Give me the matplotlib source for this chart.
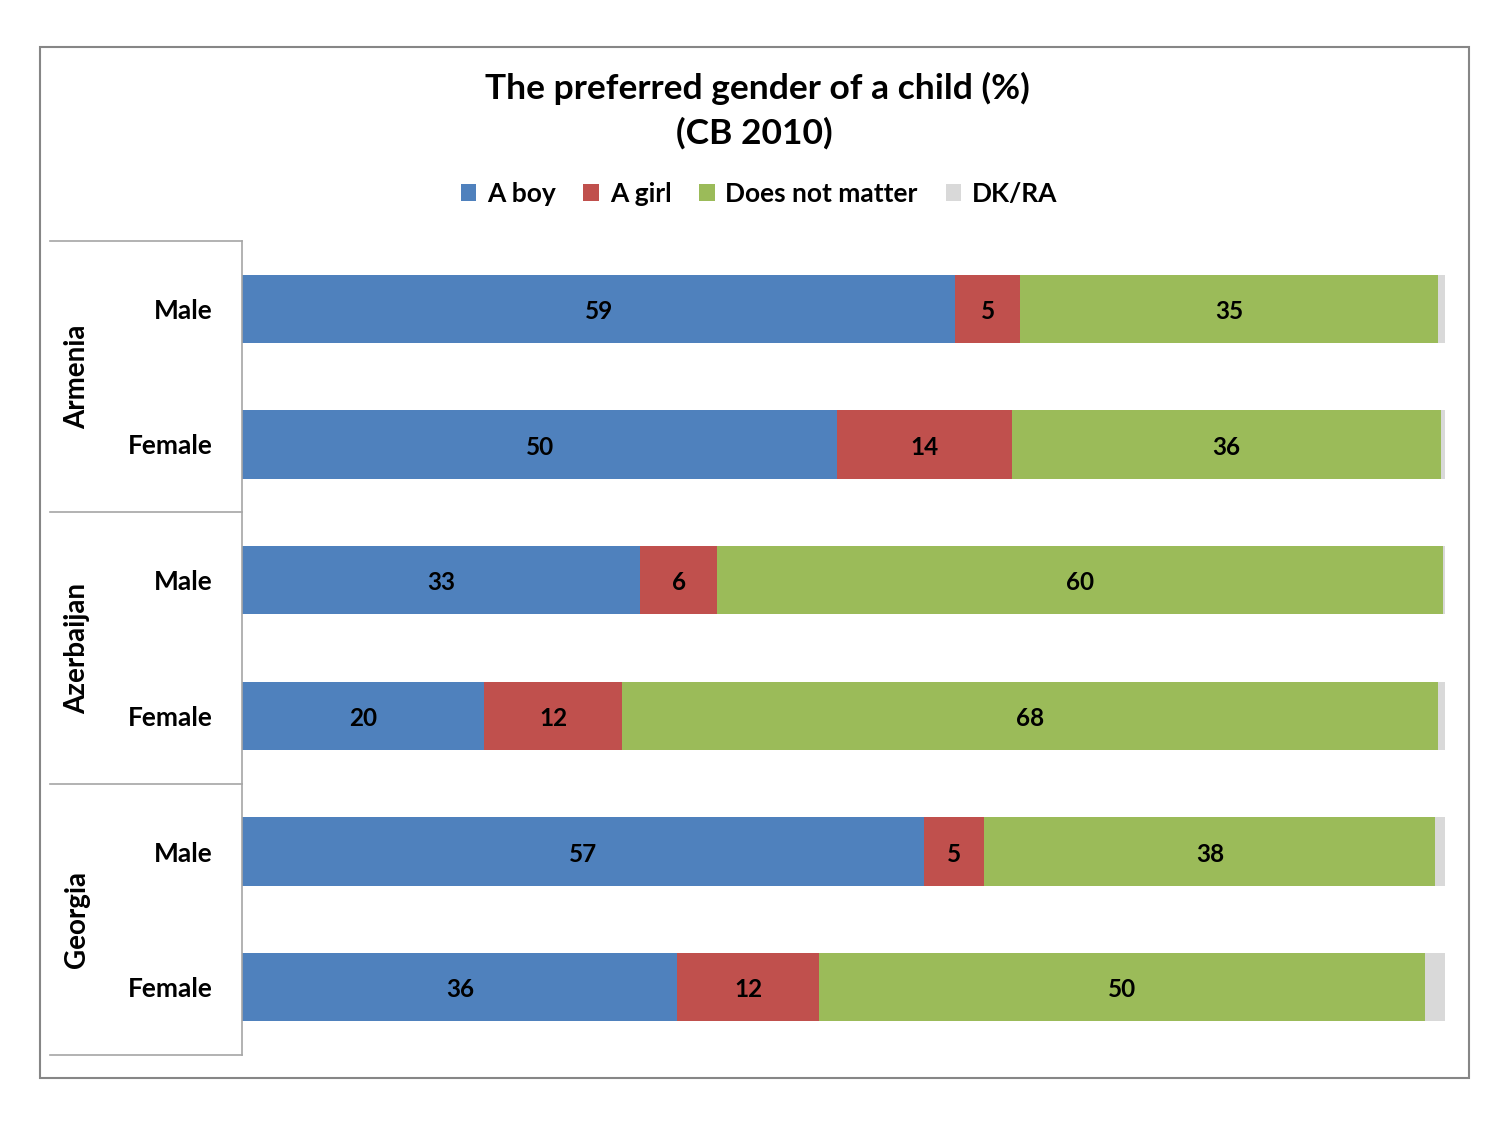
import matplotlib.pyplot as plt
from matplotlib.patches import Rectangle
import numpy as np

plt.rcParams['font.family'] = ['Lato', 'DejaVu Sans']
plt.rcParams['font.weight'] = 'bold'

countries = ['Armenia', 'Azerbaijan', 'Georgia']
genders = ['Male', 'Female', 'Male', 'Female', 'Male', 'Female']
series = ['A boy', 'A girl', 'Does not matter', 'DK/RA']
colors = ['#4F81BD', '#C0504D', '#9BBB59', '#D9D9D9']

# shares per row, in %
a_boy = [59.3, 49.5, 33.1, 20.1, 56.7, 36.2]
a_girl = [5.4, 14.5, 6.4, 11.5, 5.0, 11.8]
no_matter = [34.7, 35.7, 60.3, 67.8, 37.5, 50.3]
dk_ra = [0.6, 0.3, 0.2, 0.6, 0.8, 1.7]

W, H = 1509, 1127
fig = plt.figure(figsize=(W / 100, H / 100), dpi=100)

# outer chart border
fig.patches.append(Rectangle((40 / W, 1 - 1078 / H), 1429 / W, 1031 / H,
                             transform=fig.transFigure, fill=False,
                             edgecolor='#868686', linewidth=1.5))

ax = fig.add_axes([242 / W, 1 - 1055 / H, 1203 / W, 814 / H])

y = np.arange(len(genders))
left = np.zeros(len(genders))
for vals, name, col in zip([a_boy, a_girl, no_matter, dk_ra], series, colors):
    ax.barh(y, vals, left=left, height=0.505, color=col, label=name)
    if name != 'DK/RA':
        # value labels in the middle of each segment
        for yi, l, v in zip(y, left, vals):
            ax.text(l + v / 2, yi + 0.02, '%.0f' % v, ha='center', va='center',
                    fontsize=17.5, fontweight='bold', color='black')
    left += np.array(vals)

ax.set_xlim(0, 100)
ax.set_ylim(len(genders) - 0.5, -0.5)
ax.set_xticks([])
ax.set_yticks(y)
ax.set_yticklabels(genders, fontsize=19, fontweight='bold')
ax.tick_params(axis='y', length=0, pad=21)
for s in ['top', 'right', 'bottom']:
    ax.spines[s].set_visible(False)
ax.spines['left'].set_color('#A6A6A6')
ax.spines['left'].set_linewidth(1.2)

# group separators and country labels
xl = (50 - 242) / 1203
for yy in [-0.5, 1.5, 3.5, 5.5]:
    ax.plot([xl, 0], [yy, yy], color='#A6A6A6', linewidth=1.2,
            transform=ax.get_yaxis_transform(), clip_on=False)
for i, c in enumerate(countries):
    ax.text((77 - 242) / 1203, 2 * i + 0.5, c, rotation=90, ha='center', va='center',
            fontsize=20, fontweight='bold', transform=ax.get_yaxis_transform())

fig.text(757 / W, 1 - 88 / H, 'The preferred gender of a child (%)', ha='center', va='center',
         fontsize=25.5, fontweight='bold')
fig.text(754 / W, 1 - 133 / H, '(CB 2010)', ha='center', va='center',
         fontsize=25.5, fontweight='bold')

fig.legend(loc='center', bbox_to_anchor=(759 / W, 1 - 194 / H), ncol=4, frameon=False,
           fontsize=19, handlelength=0.6, handleheight=0.6, handletextpad=0.4,
           columnspacing=1.05)

fig.savefig('out.png', dpi=100)
